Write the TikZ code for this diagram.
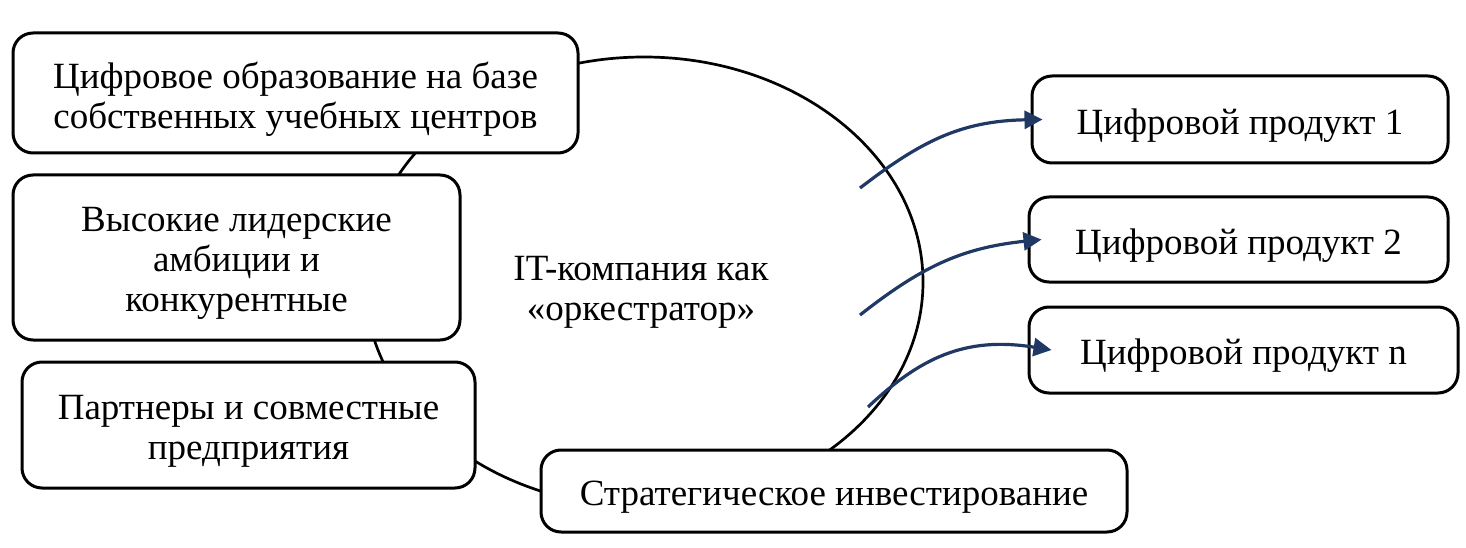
\documentclass[tikz,border=0pt]{standalone}
\usepackage{fontspec}
\setmainfont{Liberation Serif}
\usetikzlibrary{arrows.meta}
\definecolor{navy}{HTML}{1F3864}
\begin{document}
\begin{tikzpicture}[x=1pt,y=-1pt,
  box/.style={draw, line width=3pt, rounded corners=20pt, fill=white, inner sep=0pt},
  lbl/.style={align=center, inner sep=0pt, font=\fontsize{37}{40}\selectfont},
  orb/.style={line width=2.7pt},
  arr/.style={draw=navy, line width=3.2pt, -{Triangle[length=18pt,width=18pt]}}]
\useasboundingbox (0,0) rectangle (1466,548);
\fill[white] (0,0) rectangle (1466,548);
% orchestrator ellipse
\draw[orb] (644,282) ellipse [x radius=279, y radius=225];
\node[lbl] (c) at (641,292) {IT-компания как\\«оркестратор»};
% left boxes
\node[box, minimum width=565pt, minimum height=120pt] (b1) at (295.5,93) {};
\node[box, minimum width=447pt, minimum height=165pt] (b2) at (236.5,257.5) {};
\node[box, minimum width=453pt, minimum height=126pt] (b3) at (248.5,425) {};
\node[box, minimum width=586pt, minimum height=82pt] (b4) at (834,491) {};
% right boxes
\node[box, minimum width=416pt, minimum height=87pt] (p1) at (1240,119.5) {};
\node[box, minimum width=419pt, minimum height=85pt] (p2) at (1238.5,239.5) {};
\node[box, minimum width=429pt, minimum height=86pt] (pn) at (1243.5,350) {};
% texts
\node[lbl] (t1) at ([yshift=-6pt]b1.center) {Цифровое образование на базе\\собственных учебных центров};
\node[lbl] (t2) at ([yshift=-6pt]b2.center) {Высокие лидерские\\амбиции и\\конкурентные};
\node[lbl] (t3) at ([yshift=-6pt]b3.center) {Партнеры и совместные\\предприятия};
\node[lbl] (t4) at ([yshift=-6pt]b4.center) {Стратегическое инвестирование};
\node[lbl] (tp1) at ([yshift=-6pt]p1.center) {Цифровой продукт 1};
\node[lbl] (tp2) at ([yshift=-6pt]p2.center) {Цифровой продукт 2};
\node[lbl] (tpn) at ([yshift=-6pt]pn.center) {Цифровой продукт n};
% arrows
\coordinate (s1) at (860,188);
\coordinate (s2) at (860,315);
\coordinate (s3) at (868,407);
\draw[arr] (s1) .. controls (920,142) and (960,121) .. ([xshift=12pt]p1.west);
\draw[arr] (s2) .. controls (920,268) and (960,248) .. ([xshift=14pt]p2.west);
\draw[arr] (s3) .. controls (920,358) and (965,336) .. ([xshift=24pt]pn.west);
\end{tikzpicture}
\end{document}
